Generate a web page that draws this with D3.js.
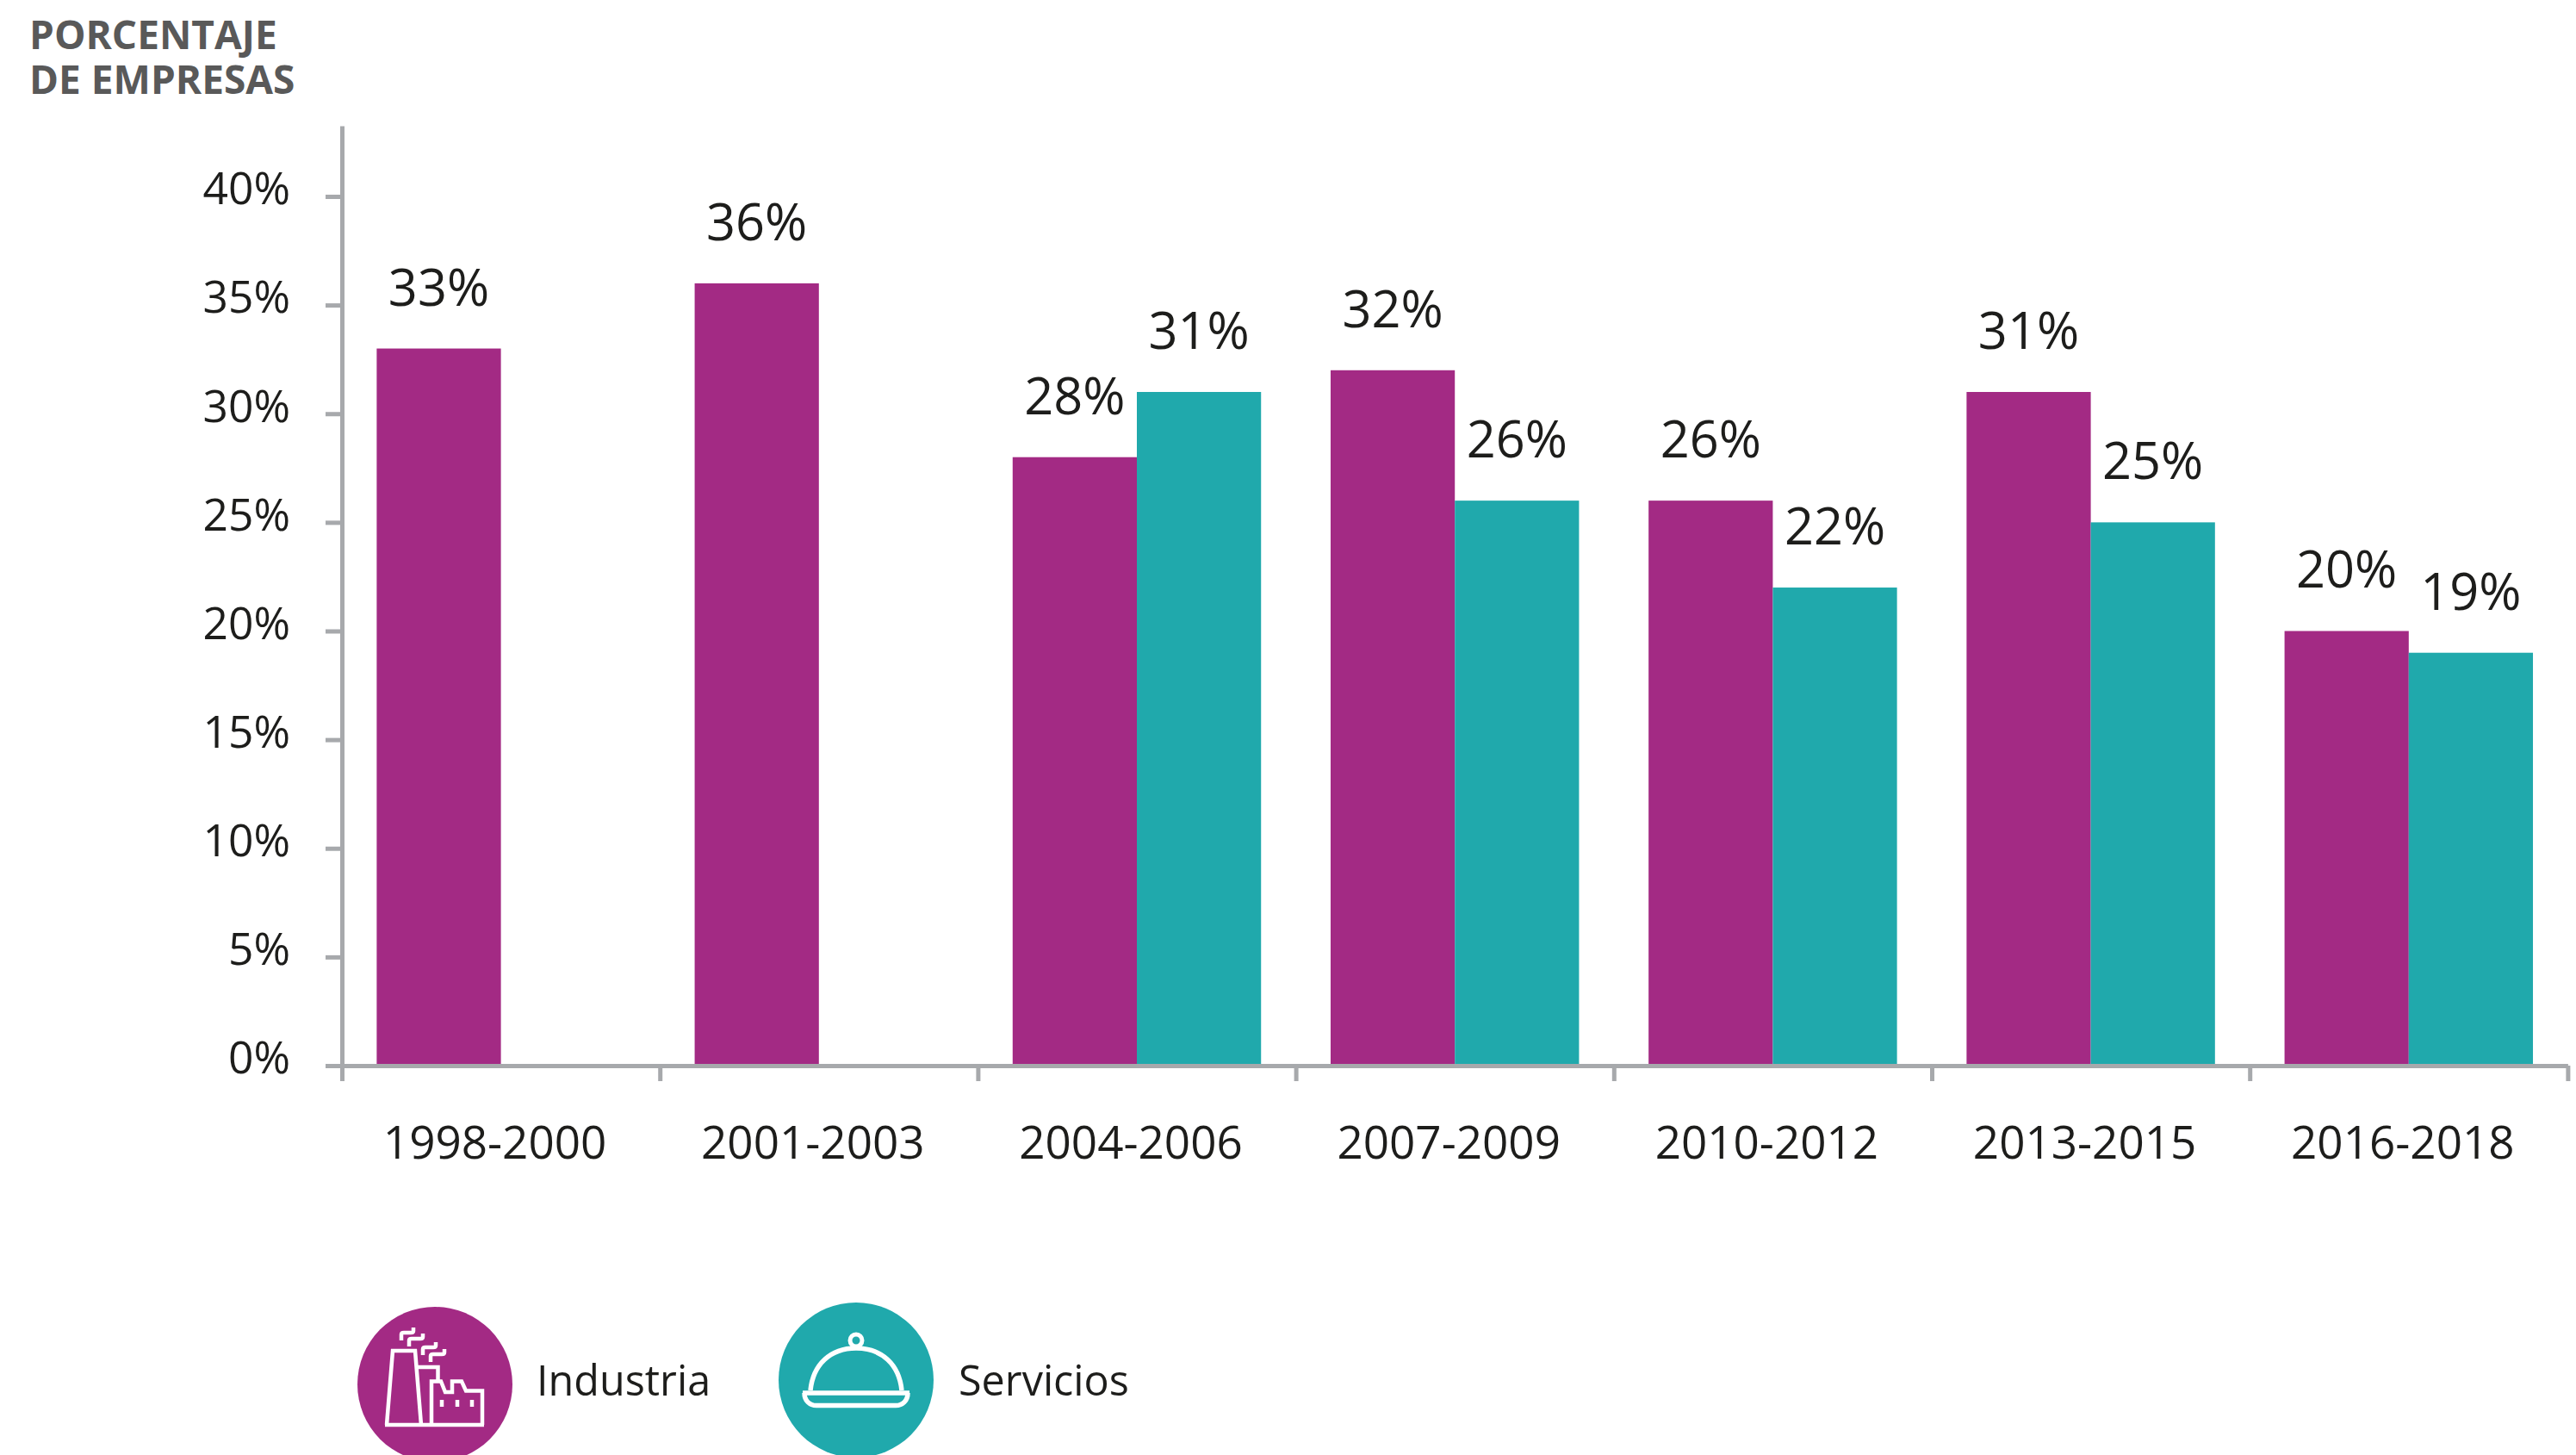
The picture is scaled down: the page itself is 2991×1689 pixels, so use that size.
<!DOCTYPE html>
<html lang="es">
<head>
<meta charset="utf-8">
<title>Porcentaje de empresas</title>
<script src="https://cdn.jsdelivr.net/npm/d3@7/dist/d3.min.js"></script>
<style>
  html, body { margin: 0; padding: 0; background: #fff; }
  svg { display: block; font-family: "Open Sans", sans-serif; }
</style>
</head>
<body>
<svg id="chart" width="2991" height="1689"></svg>
<script>
// Data
const periods = ["1998-2000", "2001-2003", "2004-2006", "2007-2009", "2010-2012", "2013-2015", "2016-2018"];
const seriesNames = ["Industria", "Servicios"];
const industria = [33, 36, 28, 32, 26, 31, 20];
const servicios = [null, null, 31, 26, 22, 25, 19];
const yTicks = [0, 5, 10, 15, 20, 25, 30, 35, 40];
const titleLines = ["PORCENTAJE", "DE EMPRESAS"];

const colors = { Industria: "#A32A84", Servicios: "#20A9AC" };
const axisColor = "#A7A9AC";
const inkColor = "#1D1D1B";

const svg = d3.select("#chart");

// Scales
const plotLeft = 397, plotRight = 2981.4, plotBase = 1237, plotTop = 146;
const y = d3.scaleLinear().domain([0, 43.25]).range([plotBase, plotTop]);
const x0 = d3.scaleBand().domain(periods).range([plotLeft, plotRight]);
const x1 = d3.scaleBand().domain(seriesNames).range([0, x0.bandwidth()]).paddingOuter(0.28).paddingInner(0);
const edges = d3.scaleLinear().domain([0, periods.length]).range([plotLeft, plotRight]);

// Bars and their value labels
const rows = periods.flatMap((p, i) => [
  { period: p, series: "Industria", value: industria[i] },
  { period: p, series: "Servicios", value: servicios[i] }
]).filter(d => d.value !== null);

svg.append("g").selectAll("rect").data(rows).join("rect")
  .attr("x", d => x0(d.period) + x1(d.series))
  .attr("y", d => y(d.value))
  .attr("width", x1.bandwidth())
  .attr("height", d => plotBase - y(d.value))
  .attr("fill", d => colors[d.series]);

svg.append("g").selectAll("text").data(rows).join("text")
  .attr("x", d => x0(d.period) + x1(d.series) + x1.bandwidth() / 2)
  .attr("y", d => y(d.value) - 50)
  .attr("text-anchor", "middle")
  .attr("font-size", 59.5)
  .attr("fill", inkColor)
  .text(d => d.value + "%");

// Y axis
const yAxis = svg.append("g")
  .attr("transform", `translate(${plotLeft},0)`)
  .call(d3.axisLeft(y).tickValues(yTicks).tickFormat(d => d + "%").tickSize(19).tickSizeOuter(0).tickPadding(41));
yAxis.selectAll("path, line").attr("stroke", axisColor).attr("stroke-width", 5);
yAxis.selectAll("text")
  .attr("font-size", 51.5).attr("font-family", "Open Sans").attr("fill", inkColor).attr("dy", "0.17em");

// X axis: tick marks sit on the band edges, labels on the band centres
const xTicks = svg.append("g")
  .attr("transform", `translate(0,${plotBase})`)
  .call(d3.axisBottom(edges).tickValues(d3.range(periods.length + 1)).tickFormat("").tickSize(18).tickSizeOuter(0));
xTicks.selectAll("path, line").attr("stroke", axisColor).attr("stroke-width", 5);
svg.append("line")
  .attr("x1", 378).attr("x2", plotLeft).attr("y1", plotBase + 0.5).attr("y2", plotBase + 0.5)
  .attr("stroke", axisColor).attr("stroke-width", 5);

const xLabels = svg.append("g")
  .attr("transform", `translate(-7,${plotBase})`)
  .call(d3.axisBottom(x0).tickSize(0).tickPadding(70));
xLabels.select(".domain").remove();
xLabels.selectAll("text")
  .attr("font-size", 53).attr("font-family", "Open Sans").attr("fill", inkColor);

// Axis title, one text element with a line per tspan
svg.append("text")
  .attr("font-size", 46)
  .attr("font-weight", 700)
  .attr("fill", "#595959")
  .selectAll("tspan").data(titleLines).join("tspan")
  .attr("x", 34)
  .attr("y", (d, i) => 57 + i * 52)
  .text(d => d);

// Legend with pictograms
const factoryPaths = [
  "M-58,47L57,47",
  "M-56,47L-49,-39L-23,-39L-16,47",
  "M-23,-20L3.5,-20L3.5,-4",
  "M-4,47L-4,-3.5L7,-3.5L12,9L20,9L20,-3.5L31,-3.5L36,7.5L55,7.5L55,47",
  "M8,18V26M26,18V26M43,18V26",
  "M-39,-51V-58Q-39,-60 -36,-60H-28Q-25,-60 -25,-62V-66",
  "M-30,-44V-51Q-30,-53 -27,-53H-17Q-14,-53 -14,-55V-59",
  "M-14,-34V-41Q-14,-43 -11,-43H-2Q1,-43 1,-45V-49",
  "M-5,-26V-33Q-5,-35 -2,-35H8Q11,-35 11,-37V-41"
];
const clochePaths = [
  "M-53,12C-50,-18 -30,-37 0,-37C30,-37 50,-18 53,12",
  "M-62,15L62,15",
  "M-60,15C-60,24 -54,29.5 -46,29.5L46,29.5C54,29.5 60,24 60,15"
];
const legendItems = [
  { name: seriesNames[0], cx: 505, cy: 1607, labelX: 623, paths: factoryPaths, width: 4.5 },
  { name: seriesNames[1], cx: 994, cy: 1602, labelX: 1113, paths: clochePaths, width: 5.5 }
];

const legend = svg.append("g").selectAll("g").data(legendItems).join("g");
legend.append("circle")
  .attr("cx", d => d.cx).attr("cy", d => d.cy).attr("r", 90)
  .attr("fill", d => colors[d.name]);
legend.append("g")
  .attr("transform", d => `translate(${d.cx},${d.cy})`)
  .attr("fill", "none").attr("stroke", "#fff").attr("stroke-width", d => d.width)
  .selectAll("path").data(d => d.paths).join("path").attr("d", d => d);
legend.filter(d => d.name === "Servicios").append("ellipse")
  .attr("cx", d => d.cx).attr("cy", d => d.cy - 46).attr("rx", 7).attr("ry", 7)
  .attr("fill", "none").attr("stroke", "#fff").attr("stroke-width", 5);
legend.append("text")
  .attr("x", d => d.labelX).attr("y", 1620)
  .attr("font-size", 48.5).attr("fill", inkColor)
  .text(d => d.name);
</script>
</body>
</html>
